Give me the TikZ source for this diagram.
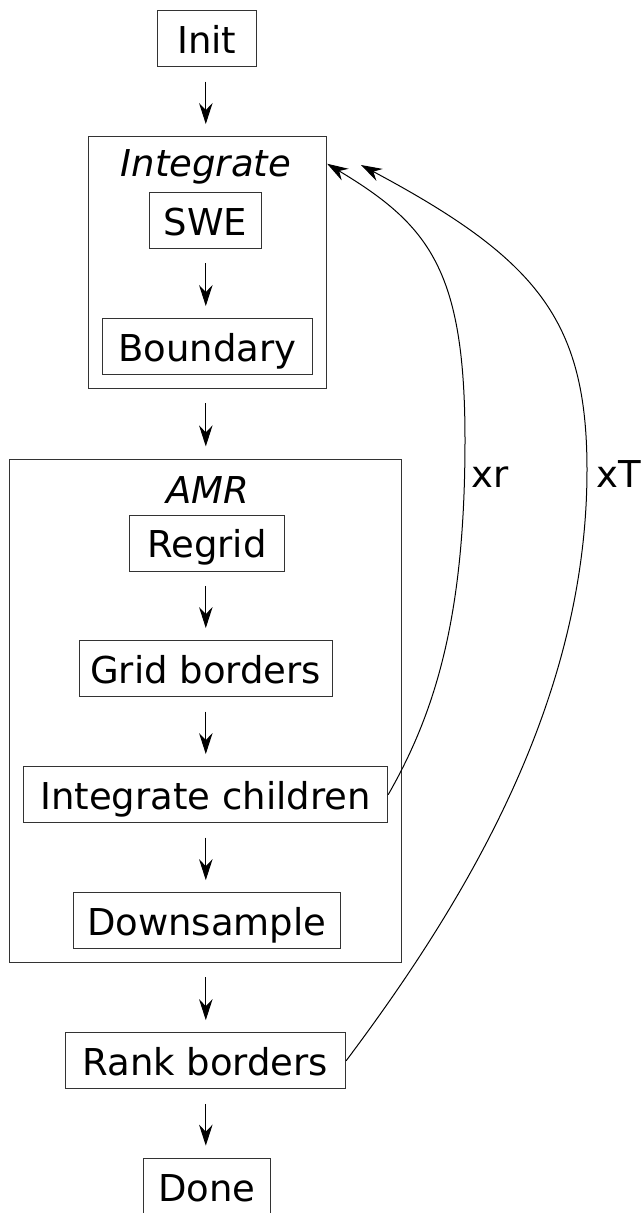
\documentclass[tikz,border=0pt]{standalone}
\usepackage{fontspec}
\setmainfont{DejaVu Sans}
\usetikzlibrary{arrows.meta}
\begin{document}
\begin{tikzpicture}[x=1pt,y=-1pt,
  box/.style={draw=black!80, line width=0.9pt, inner xsep=0pt, inner ysep=0pt,
    minimum height=56pt, text height=29.5pt, text depth=0pt,
    font=\fontsize{37}{44}\selectfont},
  group/.style={draw=black!80, line width=0.9pt, inner sep=0pt},
  ttl/.style={font=\fontsize{37}{44}\selectfont\itshape, inner sep=0pt, anchor=base},
  lbl/.style={font=\fontsize{37}{44}\selectfont, inner sep=0pt, anchor=base west},
  arr/.style={-{Stealth[length=21pt,width=13.5pt,inset=7pt]}, line width=1pt, black},
  flow/.style={arr, shorten <=14.5pt, shorten >=12.2pt}]
\useasboundingbox[fill=white] (0,0) rectangle (641,1213);

% group frames
\node[group, minimum width=238.4pt, minimum height=251.6pt] (intbox) at (207.5,262.5) {};
\node[group, minimum width=392.4pt, minimum height=503.3pt] (amrbox) at (205.5,710.7) {};
\node[ttl] (inttitle) at (206,176.5) {Integrate};
\node[ttl] (amrtitle) at (207.5,503.3) {AMR};

% boxes
\node[box, minimum width=98.3pt]  (init)  at (206.8,38.7)  {Init};
\node[box, minimum width=112.4pt] (swe)   at (205.5,220.5) {SWE};
\node[box, minimum width=210pt]   (bnd)   at (207.3,346.7) {Boundary};
\node[box, minimum width=154.6pt] (regrid) at (207,543)    {Regrid};
\node[box, minimum width=252.7pt] (grid)  at (205.7,668.7) {Grid borders};
\node[box, minimum width=364.4pt] (ic)    at (205.5,794.7) {Integrate children};
\node[box, minimum width=266.7pt] (down)  at (206.7,920.8) {Downsample};
\node[box, minimum width=280.7pt] (rank)  at (205.3,1060.8) {Rank borders};
\node[box, minimum width=126.7pt] (done)  at (206.7,1186.3) {Done};

% vertical flow arrows
\coordinate (ax) at (205.8,0);
\draw[flow] (ax |- init.south)   -- (ax |- intbox.north);
\draw[flow] (ax |- swe.south)    -- (ax |- bnd.north);
\draw[flow] (ax |- intbox.south) -- (ax |- amrbox.north);
\draw[flow] (ax |- regrid.south) -- (ax |- grid.north);
\draw[flow] (ax |- grid.south)   -- (ax |- ic.north);
\draw[flow] (ax |- ic.south)     -- (ax |- down.north);
\draw[flow] (ax |- amrbox.south) -- (ax |- rank.north);
\draw[flow] (ax |- rank.south)   -- (ax |- done.north);

% feedback curves
\coordinate (xTend) at (361,165);
\draw[arr] (ic.east) .. controls (438,708) and (465,610) .. (465,440)
  .. controls (465,270) and (429,225) .. ([yshift=-27.5pt]intbox.north east);
\draw[arr] (rank.east) .. controls (466,901) and (587,700) .. (587,470)
  .. controls (587,320) and (537,259) .. (xTend);

\node[lbl] (xr) at (471,487) {xr};
\node[lbl] (xT) at (596,487) {xT};
\end{tikzpicture}
\end{document}
